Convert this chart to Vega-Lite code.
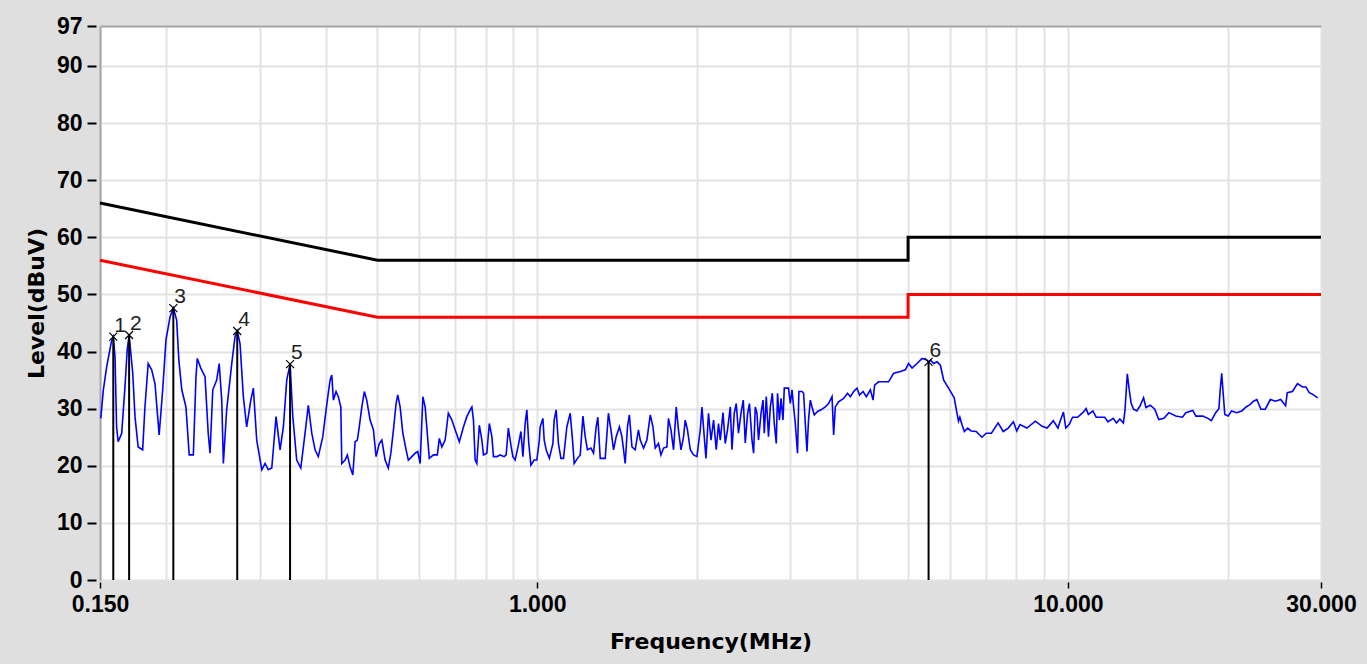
{
  "$schema": "https://vega.github.io/schema/vega-lite/v6.json",
  "autosize": "none",
  "width": 1221,
  "height": 554,
  "padding": {"left": 100, "top": 26, "right": 46, "bottom": 84},
  "background": "#dfdfdf",
  "config": {"view": {"stroke": null, "fill": "white"}},
  "datasets": {
    "lim": [
      {"lim": "QP", "i": 0, "f": 0.15, "v": 66}, {"lim": "QP", "i": 1, "f": 0.5, "v": 56}, {"lim": "QP", "i": 2, "f": 5, "v": 56}, {"lim": "QP", "i": 3, "f": 5, "v": 60}, {"lim": "QP", "i": 4, "f": 30, "v": 60},
      {"lim": "AV", "i": 0, "f": 0.15, "v": 56}, {"lim": "AV", "i": 1, "f": 0.5, "v": 46}, {"lim": "AV", "i": 2, "f": 5, "v": 46}, {"lim": "AV", "i": 3, "f": 5, "v": 50}, {"lim": "AV", "i": 4, "f": 30, "v": 50}
    ],
    "mk": [
      {"n": "1", "f": 0.1589, "v": 42.6}, {"n": "2", "f": 0.1702, "v": 42.9}, {"n": "3", "f": 0.2062, "v": 47.6},
      {"n": "4", "f": 0.2721, "v": 43.6}, {"n": "5", "f": 0.3422, "v": 37.8}, {"n": "6", "f": 5.465, "v": 38.2}
    ],
    "spec": [
      {"f":0.1505,"v":28.3},{"f":0.1522,"v":33.3},{"f":0.1544,"v":37.3},{"f":0.1578,"v":42.0},{"f":0.1589,"v":42.6},{"f":0.1601,"v":39.1},{"f":0.1612,"v":26.8},{"f":0.1623,"v":24.2},{"f":0.1648,"v":25.7},{"f":0.1672,"v":33.9},
      {"f":0.1688,"v":40.3},{"f":0.1702,"v":42.9},{"f":0.1729,"v":36.2},{"f":0.1746,"v":28.6},{"f":0.1770,"v":23.3},{"f":0.1805,"v":22.8},{"f":0.1823,"v":30.3},{"f":0.1849,"v":37.9},{"f":0.1877,"v":36.8},{"f":0.1904,"v":34.4},
      {"f":0.1939,"v":25.4},{"f":0.1969,"v":33.3},{"f":0.1997,"v":42.0},{"f":0.2033,"v":46.1},{"f":0.2062,"v":47.6},{"f":0.2092,"v":45.5},{"f":0.2112,"v":38.5},{"f":0.2139,"v":33.3},{"f":0.2178,"v":30.3},{"f":0.2209,"v":21.9},
      {"f":0.2249,"v":21.9},{"f":0.2275,"v":35.6},{"f":0.2288,"v":38.8},{"f":0.2323,"v":37.1},{"f":0.2366,"v":35.6},{"f":0.2399,"v":25.7},{"f":0.2418,"v":22.2},{"f":0.2447,"v":33.3},{"f":0.2489,"v":35.0},{"f":0.2516,"v":37.9},
      {"f":0.2544,"v":31.5},{"f":0.2562,"v":20.4},{"f":0.2599,"v":29.8},{"f":0.2657,"v":37.9},{"f":0.2695,"v":42.6},{"f":0.2721,"v":43.6},{"f":0.2754,"v":41.4},{"f":0.2794,"v":32.1},{"f":0.2835,"v":26.8},{"f":0.2886,"v":31.5},
      {"f":0.2918,"v":33.6},{"f":0.2961,"v":24.5},{"f":0.3027,"v":19.3},{"f":0.3070,"v":20.4},{"f":0.3113,"v":19.3},{"f":0.3161,"v":19.6},{"f":0.3220,"v":28.6},{"f":0.3277,"v":22.8},{"f":0.3324,"v":26.8},{"f":0.3373,"v":35.0},
      {"f":0.3422,"v":37.8},{"f":0.3463,"v":28.6},{"f":0.3522,"v":21.0},{"f":0.3585,"v":19.6},{"f":0.3652,"v":25.7},{"f":0.3704,"v":30.6},{"f":0.3760,"v":25.7},{"f":0.3814,"v":22.8},{"f":0.3868,"v":21.6},{"f":0.3944,"v":25.1},
      {"f":0.4001,"v":29.8},{"f":0.4039,"v":32.7},{"f":0.4071,"v":35.0},{"f":0.4101,"v":35.9},{"f":0.4130,"v":31.5},{"f":0.4178,"v":33.0},{"f":0.4219,"v":32.1},{"f":0.4265,"v":30.3},{"f":0.4283,"v":20.4},{"f":0.4345,"v":21.0},
      {"f":0.4387,"v":21.9},{"f":0.4441,"v":19.8},{"f":0.4493,"v":18.4},{"f":0.4538,"v":24.2},{"f":0.4582,"v":24.5},{"f":0.4621,"v":26.8},{"f":0.4672,"v":30.3},{"f":0.4724,"v":33.0},{"f":0.4773,"v":31.5},{"f":0.4843,"v":28.0},
      {"f":0.4913,"v":26.3},{"f":0.4970,"v":21.6},{"f":0.5040,"v":23.9},{"f":0.5096,"v":24.5},{"f":0.5169,"v":21.0},{"f":0.5241,"v":19.6},{"f":0.5299,"v":22.2},{"f":0.5359,"v":26.3},{"f":0.5421,"v":30.9},{"f":0.5460,"v":32.4},
      {"f":0.5517,"v":30.3},{"f":0.5582,"v":25.7},{"f":0.5662,"v":22.8},{"f":0.5717,"v":21.0},{"f":0.5805,"v":21.6},{"f":0.5888,"v":22.2},{"f":0.5956,"v":22.5},{"f":0.6018,"v":20.4},{"f":0.6089,"v":32.1},{"f":0.6149,"v":30.3},
      {"f":0.6193,"v":26.8},{"f":0.6261,"v":21.3},{"f":0.6375,"v":21.9},{"f":0.6484,"v":21.9},{"f":0.6539,"v":24.8},{"f":0.6612,"v":23.3},{"f":0.6707,"v":24.5},{"f":0.6801,"v":29.2},{"f":0.6906,"v":28.0},{"f":0.7004,"v":26.3},
      {"f":0.7132,"v":24.2},{"f":0.7262,"v":26.8},{"f":0.7368,"v":28.6},{"f":0.7477,"v":29.8},{"f":0.7532,"v":30.3},{"f":0.7584,"v":28.0},{"f":0.7640,"v":21.0},{"f":0.7695,"v":20.4},{"f":0.7779,"v":27.1},{"f":0.7866,"v":24.5},
      {"f":0.7921,"v":21.9},{"f":0.8036,"v":22.2},{"f":0.8124,"v":27.4},{"f":0.8215,"v":25.1},{"f":0.8272,"v":21.6},{"f":0.8393,"v":21.6},{"f":0.8517,"v":21.9},{"f":0.8665,"v":21.6},{"f":0.8740,"v":21.9},{"f":0.8825,"v":26.6},
      {"f":0.8922,"v":23.6},{"f":0.8999,"v":21.6},{"f":0.9088,"v":21.0},{"f":0.9216,"v":23.6},{"f":0.9318,"v":26.0},{"f":0.9399,"v":21.6},{"f":0.9492,"v":27.4},{"f":0.9560,"v":29.8},{"f":0.9641,"v":23.9},{"f":0.9731,"v":20.1},
      {"f":0.9870,"v":21.0},{"f":0.9984,"v":21.0},{"f":1.0094,"v":24.5},{"f":1.0131,"v":26.8},{"f":1.0251,"v":28.3},{"f":1.0308,"v":24.5},{"f":1.0397,"v":22.8},{"f":1.0542,"v":21.3},{"f":1.0706,"v":23.9},{"f":1.0765,"v":28.0},
      {"f":1.0858,"v":29.8},{"f":1.0964,"v":23.9},{"f":1.1085,"v":21.3},{"f":1.1210,"v":21.3},{"f":1.1373,"v":26.8},{"f":1.1541,"v":29.2},{"f":1.1656,"v":24.5},{"f":1.1742,"v":20.4},{"f":1.1908,"v":21.3},{"f":1.2053,"v":21.9},
      {"f":1.2195,"v":28.7},{"f":1.2316,"v":25.1},{"f":1.2436,"v":22.8},{"f":1.2627,"v":23.1},{"f":1.2769,"v":22.2},{"f":1.2917,"v":26.8},{"f":1.3011,"v":28.5},{"f":1.3146,"v":21.3},{"f":1.3433,"v":21.3},{"f":1.3622,"v":29.2},
      {"f":1.3772,"v":26.3},{"f":1.3927,"v":22.8},{"f":1.4089,"v":25.1},{"f":1.4286,"v":26.8},{"f":1.4445,"v":25.1},{"f":1.4651,"v":20.4},{"f":1.4795,"v":26.8},{"f":1.4920,"v":28.9},{"f":1.5086,"v":23.3},{"f":1.5301,"v":22.8},
      {"f":1.5517,"v":26.3},{"f":1.5639,"v":24.5},{"f":1.5864,"v":23.1},{"f":1.6096,"v":24.5},{"f":1.6334,"v":28.9},{"f":1.6526,"v":26.8},{"f":1.6690,"v":23.1},{"f":1.6925,"v":23.9},{"f":1.7111,"v":21.9},{"f":1.7304,"v":23.1},
      {"f":1.7556,"v":23.3},{"f":1.7676,"v":28.3},{"f":1.7870,"v":26.3},{"f":1.8071,"v":22.8},{"f":1.8282,"v":30.3},{"f":1.8460,"v":26.3},{"f":1.8663,"v":22.8},{"f":1.8873,"v":25.1},{"f":1.9011,"v":28.0},{"f":1.9197,"v":26.3},
      {"f":1.9431,"v":22.8},{"f":1.9710,"v":21.9},{"f":1.9998,"v":21.6},{"f":2.0293,"v":26.3},{"f":2.0443,"v":30.3},{"f":2.0646,"v":25.1},{"f":2.0799,"v":21.3},{"f":2.1028,"v":29.2},{"f":2.1259,"v":24.5},{"f":2.1499,"v":28.0},
      {"f":2.1749,"v":22.8},{"f":2.1961,"v":27.4},{"f":2.2134,"v":24.5},{"f":2.2395,"v":29.3},{"f":2.2616,"v":23.9},{"f":2.2838,"v":26.3},{"f":2.3116,"v":30.3},{"f":2.3287,"v":22.8},{"f":2.3518,"v":29.2},{"f":2.3721,"v":30.9},
      {"f":2.3952,"v":25.7},{"f":2.4216,"v":29.2},{"f":2.4457,"v":31.5},{"f":2.4667,"v":24.0},{"f":2.4909,"v":29.0},{"f":2.5119,"v":30.9},{"f":2.5399,"v":24.5},{"f":2.5576,"v":22.2},{"f":2.5762,"v":30.3},{"f":2.5949,"v":29.2},
      {"f":2.6126,"v":24.5},{"f":2.6413,"v":29.2},{"f":2.6642,"v":31.5},{"f":2.6790,"v":25.7},{"f":2.7021,"v":32.1},{"f":2.7284,"v":25.1},{"f":2.7499,"v":30.3},{"f":2.7739,"v":32.7},{"f":2.7978,"v":27.4},{"f":2.8220,"v":23.9},
      {"f":2.8374,"v":32.7},{"f":2.8613,"v":28.0},{"f":2.8808,"v":31.8},{"f":2.9058,"v":28.0},{"f":2.9219,"v":33.6},{"f":2.9759,"v":33.6},{"f":2.9993,"v":30.9},{"f":3.0215,"v":33.3},{"f":3.0425,"v":30.3},{"f":3.0647,"v":27.4},
      {"f":3.0947,"v":22.2},{"f":3.1130,"v":33.0},{"f":3.1557,"v":33.0},{"f":3.1776,"v":32.7},{"f":3.2008,"v":27.4},{"f":3.2240,"v":22.5},{"f":3.2459,"v":28.0},{"f":3.2715,"v":31.5},{"f":3.2957,"v":30.3},{"f":3.3284,"v":28.9},
      {"f":3.3755,"v":29.5},{"f":3.4272,"v":29.8},{"f":3.4911,"v":30.3},{"f":3.5403,"v":30.9},{"f":3.5946,"v":32.1},{"f":3.6196,"v":25.4},{"f":3.6460,"v":30.3},{"f":3.6973,"v":31.2},{"f":3.7801,"v":31.8},{"f":3.8450,"v":32.7},
      {"f":3.8919,"v":32.1},{"f":3.9479,"v":33.0},{"f":4.0055,"v":33.6},{"f":4.0495,"v":32.4},{"f":4.1125,"v":33.0},{"f":4.1710,"v":32.1},{"f":4.2449,"v":33.3},{"f":4.2949,"v":31.5},{"f":4.3242,"v":34.1},{"f":4.3985,"v":34.7},
      {"f":4.5937,"v":34.7},{"f":4.6965,"v":36.2},{"f":4.8354,"v":36.5},{"f":4.9408,"v":36.8},{"f":5.0104,"v":37.9},{"f":5.0873,"v":37.1},{"f":5.1974,"v":37.9},{"f":5.3130,"v":38.8},{"f":5.4279,"v":38.5},{"f":5.4649,"v":38.2},
      {"f":5.5079,"v":38.5},{"f":5.5872,"v":37.9},{"f":5.6687,"v":38.2},{"f":5.7523,"v":37.6},{"f":5.8351,"v":35.0},{"f":5.9605,"v":33.6},{"f":6.1073,"v":31.9},{"f":6.1698,"v":29.6},{"f":6.2227,"v":27.8},{"f":6.2594,"v":28.5},
      {"f":6.3181,"v":27.2},{"f":6.3833,"v":26.0},{"f":6.4737,"v":26.6},{"f":6.5728,"v":26.1},{"f":6.7183,"v":26.0},{"f":6.8877,"v":25.0},{"f":7.0191,"v":25.7},{"f":7.1782,"v":25.7},{"f":7.3896,"v":27.5},{"f":7.5551,"v":26.0},
      {"f":7.7210,"v":26.6},{"f":7.8973,"v":27.7},{"f":8.0127,"v":26.1},{"f":8.1249,"v":27.2},{"f":8.3714,"v":26.6},{"f":8.6875,"v":27.8},{"f":8.9450,"v":26.9},{"f":9.1422,"v":26.6},{"f":9.3905,"v":27.9},{"f":9.5805,"v":26.6},
      {"f":9.6976,"v":28.1},{"f":9.8118,"v":29.4},{"f":9.9126,"v":26.6},{"f":10.057,"v":27.2},{"f":10.208,"v":28.5},{"f":10.432,"v":28.5},{"f":10.669,"v":29.3},{"f":10.826,"v":30.0},{"f":10.932,"v":29.0},{"f":11.148,"v":29.6},
      {"f":11.311,"v":28.5},{"f":11.737,"v":28.5},{"f":11.903,"v":27.7},{"f":12.175,"v":28.3},{"f":12.353,"v":27.5},{"f":12.531,"v":28.2},{"f":12.725,"v":27.5},{"f":12.813,"v":29.6},{"f":12.945,"v":36.1},{"f":13.038,"v":33.7},
      {"f":13.158,"v":31.0},{"f":13.296,"v":29.9},{"f":13.490,"v":29.6},{"f":13.685,"v":30.5},{"f":13.891,"v":31.9},{"f":14.035,"v":30.2},{"f":14.298,"v":30.6},{"f":14.583,"v":29.9},{"f":14.839,"v":28.1},{"f":15.171,"v":28.3},
      {"f":15.505,"v":29.3},{"f":15.974,"v":28.7},{"f":16.448,"v":28.5},{"f":16.689,"v":29.3},{"f":17.193,"v":29.7},{"f":17.438,"v":28.7},{"f":17.963,"v":28.7},{"f":18.360,"v":28.3},{"f":18.639,"v":27.9},{"f":18.996,"v":29.3},
      {"f":19.263,"v":30.0},{"f":19.377,"v":33.4},{"f":19.499,"v":36.2},{"f":19.617,"v":32.8},{"f":19.761,"v":29.0},{"f":20.050,"v":28.7},{"f":20.348,"v":29.6},{"f":20.798,"v":29.3},{"f":21.268,"v":29.6},{"f":21.674,"v":30.3},
      {"f":22.044,"v":30.7},{"f":22.386,"v":31.3},{"f":22.713,"v":31.6},{"f":23.116,"v":29.9},{"f":23.559,"v":29.9},{"f":24.074,"v":31.6},{"f":24.626,"v":31.3},{"f":25.180,"v":31.6},{"f":25.729,"v":30.5},{"f":25.918,"v":32.8},
      {"f":26.505,"v":33.0},{"f":27.088,"v":34.4},{"f":27.693,"v":33.8},{"f":28.099,"v":33.8},{"f":28.508,"v":32.8},{"f":28.947,"v":32.5},{"f":29.572,"v":31.9}
    ]
  },
  "resolve": {"scale": {"x": "shared", "y": "shared"}, "axis": {"x": "independent"}},
  "layer": [
    {
      "data": {"name": "lim"},
      "mark": {"type": "line", "strokeWidth": 3, "interpolate": "linear"},
      "encoding": {
        "x": {"field": "f", "type": "quantitative", "scale": {"type": "log", "domain": [0.15, 30], "nice": false},
              "axis": {"orient": "top", "labels": false, "ticks": false, "grid": false, "domainColor": "#a6a6a6", "domainWidth": 2, "title": null}},
        "y": {"field": "v", "type": "quantitative", "scale": {"domain": [0, 97], "nice": false, "zero": false},
              "axis": {"values": [0, 10, 20, 30, 40, 50, 60, 70, 80, 90, 97], "title": "Level(dBuV)", "grid": true, "gridColor": "#e3e3e3", "gridWidth": 2,
                       "domainColor": "#a6a6a6", "domainWidth": 2, "tickColor": "#000000", "tickWidth": 2, "tickSize": 13, "tickDash": [0, 4, 9, 20],
                       "labelFont": "Liberation Sans", "labelFontWeight": "bold", "labelFontSize": 23, "labelColor": "#000000", "labelPadding": 5, "labelOverlap": false,
                       "titleFont": "DejaVu Sans", "titleFontWeight": "bold", "titleFontSize": 22, "titleColor": "#000000", "titleX": -64, "titleY": 277, "titleBaseline": "middle", "titleAngle": 270}},
        "color": {"field": "lim", "type": "nominal", "scale": {"domain": ["QP", "AV"], "range": ["#000000", "#ff0000"]}, "legend": null},
        "order": {"field": "i", "type": "quantitative"}
      }
    },
    {
      "data": {"name": "spec"},
      "mark": {"type": "line", "color": "#0000ff", "strokeWidth": 1.6},
      "encoding": {
        "x": {"field": "f", "type": "quantitative",
              "axis": {"orient": "bottom", "values": [0.15, 0.2, 0.3, 0.4, 0.5, 0.6, 0.7, 0.8, 0.9, 1, 2, 3, 4, 5, 6, 7, 8, 9, 10, 20, 30],
                       "labelExpr": "indexof([0.15, 1, 10, 30], datum.value) >= 0 ? format(datum.value, '.3f') : ''",
                       "tickOpacity": {"condition": {"test": "indexof([0.15, 1, 10, 30], datum.value) >= 0", "value": 1}, "value": 0},
                       "tickColor": "#000000", "tickWidth": 1.5, "tickSize": 8, "tickDash": [0, 2, 6, 20],
                       "grid": true, "gridColor": "#e3e3e3", "gridWidth": 2, "domain": false,
                       "labelFont": "Liberation Sans", "labelFontWeight": "bold", "labelFontSize": 23, "labelColor": "#000000", "labelPadding": 5, "labelOverlap": false, "labelFlush": false,
                       "title": "Frequency(MHz)", "titleFont": "DejaVu Sans", "titleFontWeight": "bold", "titleFontSize": 22, "titleColor": "#000000", "titleY": 61, "titleBaseline": "middle"}},
        "y": {"field": "v", "type": "quantitative"}
      }
    },
    {
      "data": {"name": "mk"},
      "mark": {"type": "rule", "color": "#000000", "strokeWidth": 2},
      "encoding": {
        "x": {"field": "f", "type": "quantitative", "axis": null},
        "y": {"field": "v", "type": "quantitative"},
        "y2": {"datum": 0}
      }
    },
    {
      "data": {"name": "mk"},
      "mark": {"type": "point", "shape": "M-1,-1L1,1M-1,1L1,-1", "size": 64, "filled": false, "stroke": "#000000", "strokeWidth": 1.2, "opacity": 1},
      "encoding": {
        "x": {"field": "f", "type": "quantitative", "axis": null},
        "y": {"field": "v", "type": "quantitative"}
      }
    },
    {
      "data": {"name": "mk"},
      "mark": {"type": "text", "align": "left", "baseline": "bottom", "dx": 1, "dy": -1, "font": "Liberation Sans", "fontSize": 21, "color": "#222222"},
      "encoding": {
        "x": {"field": "f", "type": "quantitative", "axis": null},
        "y": {"field": "v", "type": "quantitative"},
        "text": {"field": "n"}
      }
    }
  ]
}
